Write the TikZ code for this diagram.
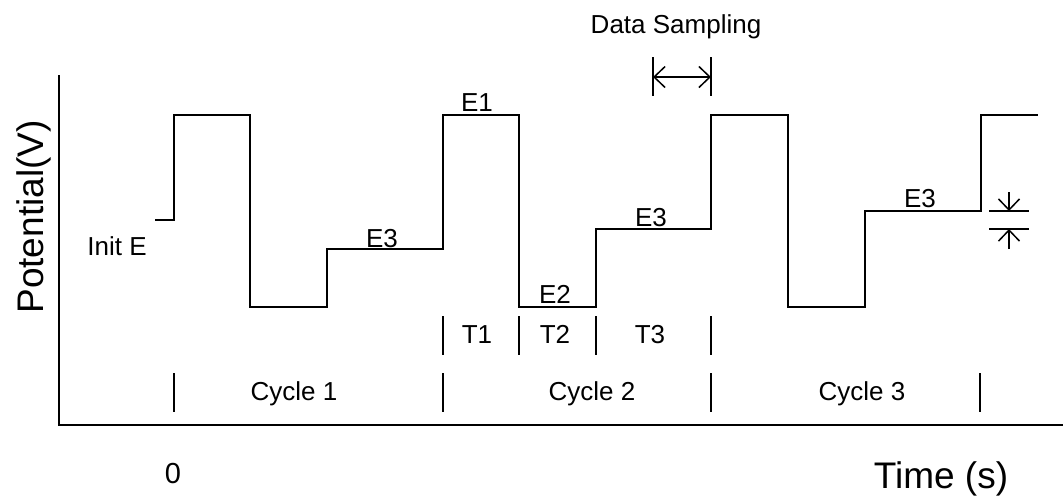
\documentclass[tikz,border=0pt]{standalone}
\usepackage{fontspec}
\setmainfont{Liberation Sans}
\usetikzlibrary{arrows.meta}

\begin{document}
\begin{tikzpicture}[x=0.5pt,y=-0.5pt,
    wave/.style={line width=1pt},
    axisline/.style={line width=1.1pt},
    tickmark/.style={line width=0.75pt},
    lbl/.style={font=\fontsize{13}{15}\selectfont, inner sep=0pt, anchor=base},
    biglbl/.style={font=\fontsize{18.5}{22}\selectfont, inner sep=0pt, anchor=base},
    dimline/.style={line width=0.75pt},
    >={Straight Barb[length=5.5pt,width=10.5pt]}]
  \useasboundingbox (0,0) rectangle (1063,495);
  % axes
  \coordinate (ytop) at (59,75);
  \coordinate (xend) at (1063,425);
  \draw[axisline] (ytop) |- (xend);
  % the potential steps
  \draw[wave] (155,220) -| (174,115) -| (250,307) -| (327,249) -| (443,115)
    -| (519,307) -| (596,229) -| (711,115) -| (788,307) -| (865,211)
    -| (981,115) -- (1038,115);
  % step and cycle marks
  \foreach \x in {443,519,596,711} \draw[tickmark] (\x,316) -- (\x,355);
  \foreach \x in {174,443,711,980} \draw[tickmark] (\x,373) -- (\x,412);
  % labels
  \node[lbl] (init) at (117,255) {Init E};
  \node[lbl] (e3a) at (382,247) {E3};
  \node[lbl] (e1) at (477,111) {E1};
  \node[lbl] (e2) at (555,303) {E2};
  \node[lbl] (e3b) at (651,226) {E3};
  \node[lbl] (e3c) at (920,207) {E3};
  \node[lbl] (t1) at (477,343) {T1};
  \node[lbl] (t2) at (555,343) {T2};
  \node[lbl] (t3) at (650,343) {T3};
  \node[lbl] (cyc1) at (294,400) {Cycle 1};
  \node[lbl] (cyc2) at (592,400) {Cycle 2};
  \node[lbl] (cyc3) at (862,400) {Cycle 3};
  \node[lbl] (samp) at (676,33) {Data Sampling};
  \node[lbl,font=\fontsize{14.5}{17}\selectfont] (zero) at (173,483) {0};
  \node[biglbl] (time) at (941,488) {Time (s)};
  \node[biglbl,rotate=90] (pot) at (43,217) {Potential(V)};
  % data sampling window
  \draw[dimline] (653,57) -- (653,96);
  \draw[dimline] (711,57) -- (711,96);
  \coordinate (sampL) at (653,77);
  \coordinate (sampR) at (711,77);
  \draw[dimline,<->] (sampL) -- (sampR);
  % step height marker
  \draw[dimline] (989,211) -- (1029,211);
  \draw[dimline] (989,229) -- (1029,229);
  \coordinate (hiA) at (1009,192);
  \coordinate (hiB) at (1009,211);
  \coordinate (loA) at (1009,249);
  \coordinate (loB) at (1009,229);
  \draw[dimline,->] (hiA) -- (hiB);
  \draw[dimline,->] (loA) -- (loB);
\end{tikzpicture}
\end{document}
